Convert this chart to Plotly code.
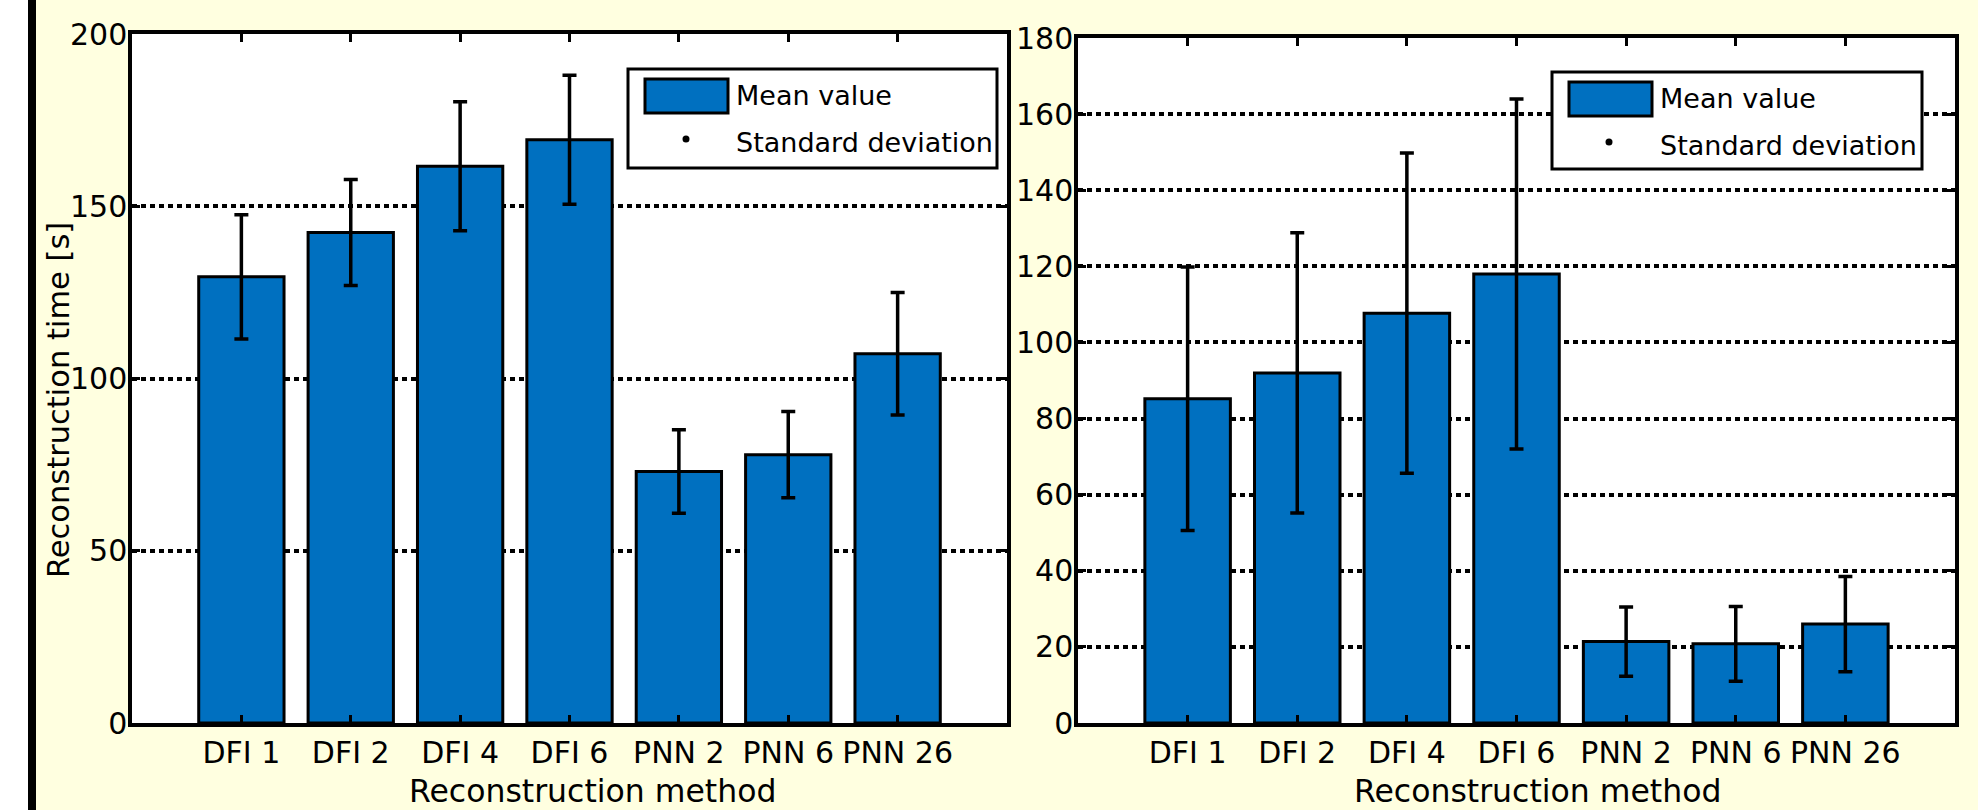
import plotly.graph_objects as go

W, H = 1978, 810

methods = ["DFI 1", "DFI 2", "DFI 4", "DFI 6", "PNN 2", "PNN 6", "PNN 26"]

# Left panel
mean_left = [129.5, 142.4, 161.6, 169.3, 73.0, 77.9, 107.2]
std_left = [18.0, 15.4, 18.7, 18.7, 12.1, 12.5, 17.8]
# Right panel
mean_right = [85.2, 92.0, 107.7, 118.0, 21.4, 20.8, 26.0]
std_right = [34.6, 36.8, 42.1, 46.0, 9.1, 9.8, 12.5]

left_yticks = [0, 50, 100, 150, 200]
right_yticks = [0, 20, 40, 60, 80, 100, 120, 140, 160, 180]

legend_labels = ["Mean value", "Standard deviation"]
x_title = "Reconstruction method"
y_title = "Reconstruction time [s]"

BAR = "#0070C0"
BG = "#FFFFE0"
FONT = "DejaVu Sans"


def px(x):
    return x / W


def py(y):
    return 1 - y / H


fig = go.Figure()

for i, (m, s) in enumerate([(mean_left, std_left), (mean_right, std_right)]):
    fig.add_trace(go.Bar(
        x=methods, y=m,
        xaxis="x" if i == 0 else "x2",
        yaxis="y" if i == 0 else "y2",
        marker=dict(color=BAR, line=dict(color="black", width=3)),
        error_y=dict(type="data", array=s, visible=True, color="black",
                     thickness=3.5, width=7),
        showlegend=False,
        width=0.78,
    ))

axis_common = dict(
    showline=True, linecolor="black", linewidth=3.5, mirror="ticks",
    ticks="inside", ticklen=8, tickwidth=3, tickcolor="black",
    tickfont=dict(family=FONT, size=30, color="black"),
    automargin=False, zeroline=False,
)

fig.update_layout(
    width=W, height=H,
    margin=dict(l=0, r=0, t=0, b=0),
    paper_bgcolor=BG, plot_bgcolor="white",
    font=dict(family=FONT, color="black"),
    showlegend=False,
    xaxis=dict(domain=[px(132), px(1007)], anchor="y", type="category",
               categoryorder="array", categoryarray=methods,
               range=[-1, 7], showgrid=False, **axis_common),
    yaxis=dict(domain=[py(723), py(34)], anchor="x", range=[0, 200],
               tickvals=left_yticks, showgrid=True, gridcolor="black",
               gridwidth=3.5, griddash="5px,4px", ticklabelstandoff=-5,
               **axis_common),
    xaxis2=dict(domain=[px(1078), px(1955)], anchor="y2", type="category",
                categoryorder="array", categoryarray=methods,
                range=[-1, 7], showgrid=False, **axis_common),
    yaxis2=dict(domain=[py(723), py(38)], anchor="x2", range=[0, 180],
                tickvals=right_yticks, showgrid=True, gridcolor="black",
                gridwidth=3.5, griddash="5px,4px", ticklabelstandoff=-5,
                **axis_common),
)

shapes = [
    dict(type="rect", xref="paper", yref="paper", x0=0, x1=px(28), y0=0, y1=1,
         fillcolor="white", line=dict(width=0), layer="below"),
    dict(type="rect", xref="paper", yref="paper", x0=px(28), x1=px(36), y0=0, y1=1,
         fillcolor="black", line=dict(width=0), layer="below"),
]
annotations = []

# legends: (box x0, x1, y0, y1, swatch x0, x1, y0, y1, dot x, dot y, text x, y1, y2)
legends = [
    (628, 997, 69, 168, 645, 728, 79, 113, 686, 139, 734, 96, 142),
    (1552, 1922, 72, 169, 1569, 1652, 82, 116, 1609, 142, 1658, 98, 145),
]
for (bx0, bx1, by0, by1, sx0, sx1, sy0, sy1, dx, dy, tx, t1, t2) in legends:
    shapes.append(dict(type="rect", xref="paper", yref="paper",
                       x0=px(bx0), x1=px(bx1), y0=py(by1), y1=py(by0),
                       fillcolor="white", line=dict(color="black", width=3),
                       layer="above"))
    shapes.append(dict(type="rect", xref="paper", yref="paper",
                       x0=px(sx0), x1=px(sx1), y0=py(sy1), y1=py(sy0),
                       fillcolor=BAR, line=dict(color="black", width=3),
                       layer="above"))
    shapes.append(dict(type="circle", xref="paper", yref="paper",
                       x0=px(dx - 3.5), x1=px(dx + 3.5), y0=py(dy + 3.5), y1=py(dy - 3.5),
                       fillcolor="black", line=dict(color="black", width=0),
                       layer="above"))
    for lab, ty in zip(legend_labels, [t1, t2]):
        annotations.append(dict(text=lab, xref="paper", yref="paper",
                                x=px(tx), y=py(ty), xanchor="left", yanchor="middle",
                                showarrow=False,
                                font=dict(family=FONT, size=27, color="black")))

annotations.append(dict(text=x_title, xref="paper", yref="paper", x=px(592), y=py(791),
                        xanchor="center", yanchor="middle", showarrow=False,
                        font=dict(family=FONT, size=31.5, color="black")))
annotations.append(dict(text=x_title, xref="paper", yref="paper", x=px(1537), y=py(791),
                        xanchor="center", yanchor="middle", showarrow=False,
                        font=dict(family=FONT, size=31.5, color="black")))
annotations.append(dict(text=y_title, xref="paper", yref="paper", x=px(58), y=py(400),
                        xanchor="center", yanchor="middle", showarrow=False, textangle=-90,
                        font=dict(family=FONT, size=30.5, color="black")))

fig.update_layout(shapes=shapes, annotations=annotations)

fig.write_html("out.html", config={"displayModeBar": False},
               post_script="document.body.style.margin='0';document.body.style.overflow='hidden';")
